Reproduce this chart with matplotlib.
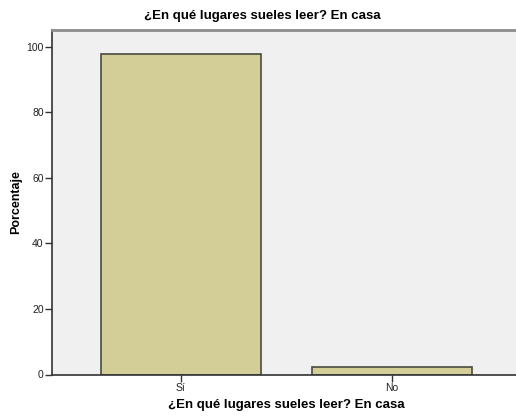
import matplotlib
matplotlib.use("Agg")
import matplotlib.pyplot as plt

categories = ["Sí", "No"]
values = [97.6, 2.4]
yticks = [0, 20, 40, 60, 80, 100]
title = "¿En qué lugares sueles leer? En casa"

plt.rcParams['font.family'] = ['Liberation Sans', 'DejaVu Sans']

W, H = 516, 417
fig = plt.figure(figsize=(W/100, H/100), dpi=100)
ax = fig.add_axes([52/W, 1-374.5/H, (516-52)/W, (374.5-29.5)/H])
ax.set_facecolor('#F0F0F0')

x = list(range(len(categories)))
ax.bar(x, values, width=0.76, color='#D3CE97', edgecolor='#4A4A44', linewidth=1.2, zorder=2)

ax.set_xlim(-0.611, 1.588)
ax.set_ylim(0, 105.2)
ax.set_xticks(x)
ax.set_xticklabels(categories)
ax.set_yticks(yticks)

ax.tick_params(axis='both', direction='out', length=5, width=1, color='#333333',
               labelsize=7.5, labelcolor='#222222', pad=1)

for s in ['left', 'bottom']:
    ax.spines[s].set_color('#333333')
    ax.spines[s].set_linewidth(1.2)
ax.spines['top'].set_color('#8C8C8C')
ax.spines['top'].set_linewidth(2)
ax.spines['right'].set_visible(False)

fig.text(16/W, 1-202/H, 'Porcentaje', rotation=90, ha='center', va='center',
         fontsize=9, fontweight='bold')
fig.text(286/W, 1-405/H, title, ha='center', va='center', fontsize=9.5, fontweight='bold')
fig.text(262/W, 1-16/H, title, ha='center', va='center', fontsize=9.5, fontweight='bold')

fig.savefig('out.png', dpi=100)
